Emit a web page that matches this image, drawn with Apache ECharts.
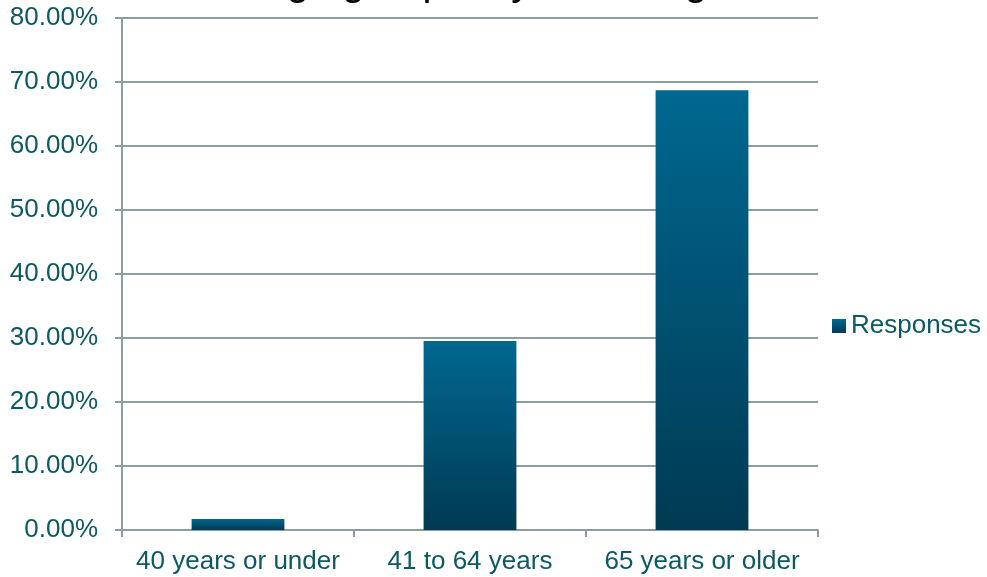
<!DOCTYPE html>
<html>
<head>
<meta charset="utf-8">
<script src="https://cdn.jsdelivr.net/npm/echarts@6/dist/echarts.min.js"></script>
<style>html,body{margin:0;padding:0;background:#fff}#c{width:987px;height:577px}</style>
</head>
<body>
<div id="c"></div>
<script>
const titleText = 'What age group do you belong to?';
const categories = ['40 years or under', '41 to 64 years', '65 years or older'];
const seriesName = 'Responses';
const responses = [1.72, 29.55, 68.73];
const yMin = 0, yMax = 80, yStep = 10;

const font = '"Liberation Sans", Arial, sans-serif';
const teal = '#0b5a63';
const gray = '#8c9da2';
const grad = new echarts.graphic.LinearGradient(0, 0, 0, 1, [
  {offset: 0, color: '#006890'},
  {offset: 1, color: '#003a52'}
]);

const chart = echarts.init(document.getElementById('c'), null, {renderer: 'canvas'});
chart.setOption({
  animation: false,
  backgroundColor: '#fff',
  title: {
    text: titleText,
    left: 160, top: -36,
    padding: 0,
    textStyle: {fontFamily: font, fontSize: 40, fontWeight: 'normal', color: '#000'}
  },
  legend: {
    data: [seriesName],
    left: 832, top: 313,
    padding: 0,
    itemWidth: 14, itemHeight: 14, itemGap: 6,
    icon: 'rect',
    textStyle: {fontFamily: font, fontSize: 26, color: teal}
  },
  grid: {left: 122, right: 169, top: 18, bottom: 47, containLabel: false},
  xAxis: {
    type: 'category',
    data: categories,
    axisLine: {lineStyle: {color: gray, width: 2}},
    axisTick: {show: true, interval: 0, length: 7, lineStyle: {color: gray, width: 2}},
    axisLabel: {interval: 0, hideOverlap: false, fontFamily: font, fontSize: 26, color: teal, margin: 19}
  },
  yAxis: {
    type: 'value',
    min: yMin, max: yMax, interval: yStep,
    axisLine: {show: true, lineStyle: {color: gray, width: 2}},
    axisTick: {show: true, length: 7, lineStyle: {color: gray, width: 2}},
    splitLine: {lineStyle: {color: gray, width: 2}},
    axisLabel: {fontFamily: font, fontSize: 26, color: teal, margin: 24,
      formatter: v => v.toFixed(2) + '%'}
  },
  series: [{
    name: seriesName,
    type: 'bar',
    data: responses,
    barWidth: '40%',
    itemStyle: {color: grad}
  }]
});
</script>
</body>
</html>
